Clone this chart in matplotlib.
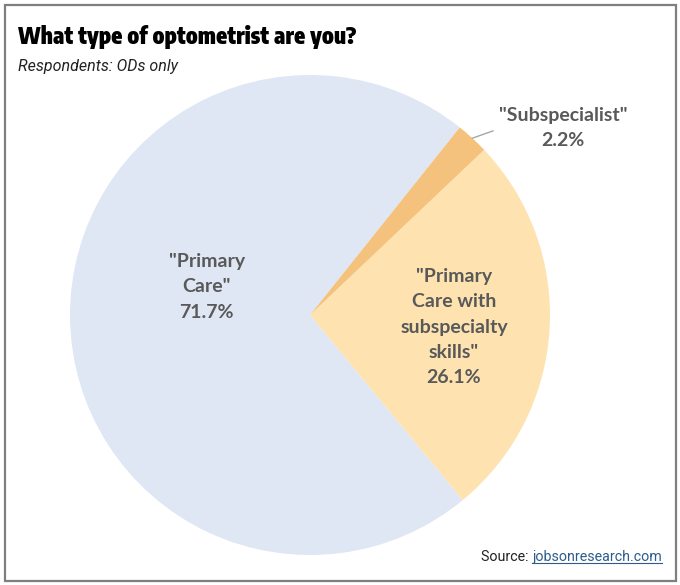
import numpy as np
import matplotlib
matplotlib.use("Agg")
import matplotlib.pyplot as plt
import matplotlib.patches as patches
from matplotlib import font_manager

# data
LABELS = ['"Primary\nCare"', '"Primary\nCare with\nsubspecialty\nskills"', '"Subspecialist"']
SHARES = [71.7, 26.1, 2.2]
COLORS = ["#DFE6F4", "#FEE3B1", "#F4C27C"]

TITLE = "What type of optometrist are you?"
SUBTITLE = "Respondents: ODs only"

W, H = 680, 585
LABEL_GREY = "#595959"
TITLE_W = 339  # px width of the title in the reference

fig = plt.figure(figsize=(W / 100, H / 100), dpi=100)
fig.patch.set_facecolor("white")
renderer = fig.canvas.get_renderer()

# bold condensed face whose width at 16 pt is closest to the reference
candidates = []
for f in font_manager.fontManager.ttflist:
    n = (f.name + " " + f.fname).lower()
    if ("condensed" in n or "narrow" in n) and f.style == "normal" \
            and f.weight in ("bold", 700, 800, 900, "heavy", "black", "extra bold"):
        candidates.append(f.fname)

best, best_w = None, None
for fn in sorted(set(candidates)):
    t = fig.text(0, 0, TITLE, fontproperties=font_manager.FontProperties(fname=fn, size=16))
    wpx = t.get_window_extent(renderer).width
    t.remove()
    if best is None or abs(wpx - TITLE_W) < abs(best_w - TITLE_W):
        best, best_w = fn, wpx

# outer frame
fig.patches.append(
    patches.Rectangle(
        (5 / W, 4 / H), 671 / W, 576 / H,
        transform=fig.transFigure, fill=False, edgecolor="#7F7F7F", lw=1.6
    )
)

# pie axes: square of 480 px centred at (310, 315)
ax = fig.add_axes([70 / W, 30 / H, 480 / W, 480 / H])
wedges, _ = ax.pie(
    SHARES, colors=COLORS, startangle=51.4, counterclock=True,
    radius=1, wedgeprops=dict(linewidth=0)
)
ax.set_xlim(-1, 1)
ax.set_ylim(-1, 1)
ax.set_aspect("equal")
ax.axis("off")

lab_font = dict(family="Lato", weight="bold", size=14, color=LABEL_GREY,
                ha="center", va="center", linespacing=1.58)

ax.text(-0.43, 0.117, f"{LABELS[0]}\n{SHARES[0]}%", **lab_font)
ax.text(0.60, -0.05, f"{LABELS[1]}\n{SHARES[1]}%", **lab_font)
ax.text(1.054, 0.78, f"{LABELS[2]}\n{SHARES[2]}%", **lab_font)

# leader line for the small slice
w = wedges[2]
mid = np.deg2rad((w.theta1 + w.theta2) / 2)
x0, y0 = np.cos(mid), np.sin(mid)
ax.plot([x0, 0.762], [y0, 0.767], color="#A6A6A6", lw=1, clip_on=False)

# title: scale to the reference width
if best:
    size = min(18, max(13, 16 * TITLE_W / best_w))
    tprops = dict(fontproperties=font_manager.FontProperties(fname=best, size=size))
else:
    tprops = dict(family="Roboto", weight="heavy", size=15.5)
fig.text(18 / W, 1 - 37 / H, TITLE, color="black", ha="left", va="center", **tprops)
fig.text(18 / W, 1 - 67 / H, SUBTITLE,
         family="Roboto", style="italic", size=11.5, color="#222222",
         ha="left", va="center")

# source line with underlined link
link = fig.text(662 / W, 1 - 561 / H, "jobsonresearch.com",
                family="Roboto", size=10.3, color="#2E5C8A", ha="right", va="baseline")
fig.canvas.draw()
bb = link.get_window_extent()
fig.text(bb.x0 / W, 1 - 561 / H, "Source: ",
         family="Roboto", size=10.3, color="#222222", ha="right", va="baseline")
fig.add_artist(plt.Line2D([bb.x0 / W, bb.x1 / W], [(bb.y0 + 1) / H, (bb.y0 + 1) / H],
                          transform=fig.transFigure, color="#2E5C8A", lw=0.8))

fig.savefig("out.png", dpi=100)
